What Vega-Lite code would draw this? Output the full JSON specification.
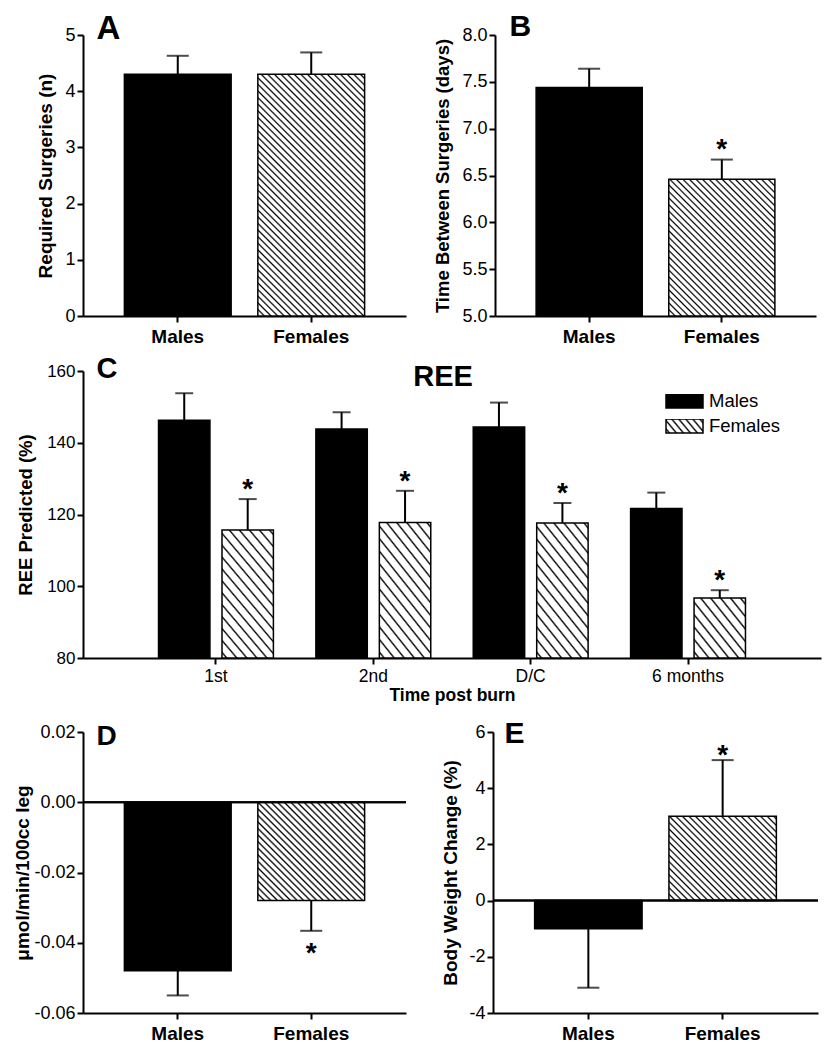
{
"$schema": "https://vega.github.io/schema/vega-lite/v6.json",
"background": "white",
"padding": {"left": 12, "top": 11, "right": 8, "bottom": 8},
"config": {
  "view": {"stroke": null},
  "font": "Liberation Sans",
  "axis": {"grid": false, "domainColor": "black", "domainWidth": 2, "tickColor": "black", "tickWidth": 2, "tickSize": 6, "labelColor": "black", "labelFont": "Liberation Sans", "labelFontSize": 18, "labelPadding": 2, "titleColor": "black", "titleFont": "Liberation Sans", "titleFontWeight": "bold", "titleFontSize": 19, "titleBaseline": "alphabetic"}
},
"datasets": {
  "A": [{"sex": "Males", "bar": 4.3, "whisker": 4.63, "sig": ""}, {"sex": "Females", "bar": 4.3, "whisker": 4.69, "sig": ""}],
  "B": [{"sex": "Males", "bar": 7.44, "whisker": 7.64, "sig": ""}, {"sex": "Females", "bar": 6.46, "whisker": 6.67, "sig": "*"}],
  "C": [
    {"time": "1st", "sex": "Males", "bar": 146.3, "whisker": 153.8, "sig": ""},
    {"time": "1st", "sex": "Females", "bar": 115.7, "whisker": 124.3, "sig": "*"},
    {"time": "2nd", "sex": "Males", "bar": 143.8, "whisker": 148.5, "sig": ""},
    {"time": "2nd", "sex": "Females", "bar": 117.8, "whisker": 126.6, "sig": "*"},
    {"time": "D/C", "sex": "Males", "bar": 144.4, "whisker": 151.2, "sig": ""},
    {"time": "D/C", "sex": "Females", "bar": 117.6, "whisker": 123.2, "sig": "*"},
    {"time": "6 months", "sex": "Males", "bar": 121.7, "whisker": 126.1, "sig": ""},
    {"time": "6 months", "sex": "Females", "bar": 96.7, "whisker": 98.9, "sig": "*"}
  ],
  "D": [{"sex": "Males", "bar": -0.048, "whisker": -0.055, "sig": ""}, {"sex": "Females", "bar": -0.028, "whisker": -0.0366, "sig": "*"}],
  "E": [{"sex": "Males", "bar": -1.0, "whisker": -3.1, "sig": ""}, {"sex": "Females", "bar": 3.0, "whisker": 5.0, "sig": "*"}]
},
"spacing": 8,
"vconcat": [
 {"hconcat": [
  {
   "width": 323, "height": 281,
   "data": {"name": "A"},
   "resolve": {"axis": {"x": "independent"}},
   "layer": [
    {"transform": [{"filter": "datum.sex === 'Males'"}],
     "mark": {"type": "bar", "color": "black", "stroke": "black", "strokeWidth": 1.5},
     "encoding": {
       "x": {"field": "sex", "type": "nominal", "scale": {"domain": ["Males", "Females"], "paddingInner": 0.2, "paddingOuter": 0.31}, "axis": {"title": null, "labelFontWeight": "bold", "labelFontSize": 19, "labelPadding": 5, "labelAngle": 0}},
       "y": {"field": "bar", "type": "quantitative", "scale": {"domain": [0, 5], "nice": false}, "axis": {"title": "Required Surgeries (n)", "values": [0, 1, 2, 3, 4, 5], "format": "d", "titleX": -31.5}}
     }},
    {"transform": [{"filter": "datum.sex === 'Females'"}],
     "mark": {"type": "bar", "stroke": "black", "strokeWidth": 1.5, "fill": {"gradient": "linear", "x1": 0, "y1": 1, "x2": 0.533, "y2": -0.2064, "stops": [
{"offset":0.014,"color":"#fff"},{"offset":0.019,"color":"#000"},{"offset":0.024,"color":"#fff"},
{"offset":0.033,"color":"#fff"},{"offset":0.038,"color":"#000"},{"offset":0.043,"color":"#fff"},
{"offset":0.052,"color":"#fff"},{"offset":0.057,"color":"#000"},{"offset":0.062,"color":"#fff"},
{"offset":0.071,"color":"#fff"},{"offset":0.076,"color":"#000"},{"offset":0.081,"color":"#fff"},
{"offset":0.09,"color":"#fff"},{"offset":0.095,"color":"#000"},{"offset":0.1,"color":"#fff"},
{"offset":0.109,"color":"#fff"},{"offset":0.114,"color":"#000"},{"offset":0.119,"color":"#fff"},
{"offset":0.128,"color":"#fff"},{"offset":0.133,"color":"#000"},{"offset":0.138,"color":"#fff"},
{"offset":0.147,"color":"#fff"},{"offset":0.152,"color":"#000"},{"offset":0.157,"color":"#fff"},
{"offset":0.166,"color":"#fff"},{"offset":0.171,"color":"#000"},{"offset":0.176,"color":"#fff"},
{"offset":0.185,"color":"#fff"},{"offset":0.19,"color":"#000"},{"offset":0.195,"color":"#fff"},
{"offset":0.204,"color":"#fff"},{"offset":0.209,"color":"#000"},{"offset":0.214,"color":"#fff"},
{"offset":0.223,"color":"#fff"},{"offset":0.228,"color":"#000"},{"offset":0.233,"color":"#fff"},
{"offset":0.242,"color":"#fff"},{"offset":0.247,"color":"#000"},{"offset":0.252,"color":"#fff"},
{"offset":0.261,"color":"#fff"},{"offset":0.266,"color":"#000"},{"offset":0.271,"color":"#fff"},
{"offset":0.28,"color":"#fff"},{"offset":0.285,"color":"#000"},{"offset":0.29,"color":"#fff"},
{"offset":0.299,"color":"#fff"},{"offset":0.304,"color":"#000"},{"offset":0.309,"color":"#fff"},
{"offset":0.318,"color":"#fff"},{"offset":0.323,"color":"#000"},{"offset":0.328,"color":"#fff"},
{"offset":0.337,"color":"#fff"},{"offset":0.342,"color":"#000"},{"offset":0.347,"color":"#fff"},
{"offset":0.356,"color":"#fff"},{"offset":0.361,"color":"#000"},{"offset":0.366,"color":"#fff"},
{"offset":0.375,"color":"#fff"},{"offset":0.38,"color":"#000"},{"offset":0.385,"color":"#fff"},
{"offset":0.394,"color":"#fff"},{"offset":0.399,"color":"#000"},{"offset":0.404,"color":"#fff"},
{"offset":0.413,"color":"#fff"},{"offset":0.418,"color":"#000"},{"offset":0.423,"color":"#fff"},
{"offset":0.432,"color":"#fff"},{"offset":0.437,"color":"#000"},{"offset":0.442,"color":"#fff"},
{"offset":0.451,"color":"#fff"},{"offset":0.456,"color":"#000"},{"offset":0.461,"color":"#fff"},
{"offset":0.47,"color":"#fff"},{"offset":0.475,"color":"#000"},{"offset":0.48,"color":"#fff"},
{"offset":0.489,"color":"#fff"},{"offset":0.494,"color":"#000"},{"offset":0.499,"color":"#fff"},
{"offset":0.508,"color":"#fff"},{"offset":0.513,"color":"#000"},{"offset":0.518,"color":"#fff"},
{"offset":0.527,"color":"#fff"},{"offset":0.532,"color":"#000"},{"offset":0.537,"color":"#fff"},
{"offset":0.546,"color":"#fff"},{"offset":0.551,"color":"#000"},{"offset":0.556,"color":"#fff"},
{"offset":0.565,"color":"#fff"},{"offset":0.57,"color":"#000"},{"offset":0.575,"color":"#fff"},
{"offset":0.584,"color":"#fff"},{"offset":0.589,"color":"#000"},{"offset":0.594,"color":"#fff"},
{"offset":0.603,"color":"#fff"},{"offset":0.608,"color":"#000"},{"offset":0.613,"color":"#fff"},
{"offset":0.622,"color":"#fff"},{"offset":0.627,"color":"#000"},{"offset":0.632,"color":"#fff"},
{"offset":0.641,"color":"#fff"},{"offset":0.646,"color":"#000"},{"offset":0.651,"color":"#fff"},
{"offset":0.66,"color":"#fff"},{"offset":0.665,"color":"#000"},{"offset":0.67,"color":"#fff"},
{"offset":0.679,"color":"#fff"},{"offset":0.684,"color":"#000"},{"offset":0.689,"color":"#fff"},
{"offset":0.698,"color":"#fff"},{"offset":0.703,"color":"#000"},{"offset":0.708,"color":"#fff"},
{"offset":0.717,"color":"#fff"},{"offset":0.722,"color":"#000"},{"offset":0.727,"color":"#fff"},
{"offset":0.736,"color":"#fff"},{"offset":0.741,"color":"#000"},{"offset":0.746,"color":"#fff"},
{"offset":0.755,"color":"#fff"},{"offset":0.76,"color":"#000"},{"offset":0.765,"color":"#fff"},
{"offset":0.774,"color":"#fff"},{"offset":0.779,"color":"#000"},{"offset":0.784,"color":"#fff"},
{"offset":0.793,"color":"#fff"},{"offset":0.798,"color":"#000"},{"offset":0.803,"color":"#fff"},
{"offset":0.812,"color":"#fff"},{"offset":0.817,"color":"#000"},{"offset":0.822,"color":"#fff"},
{"offset":0.831,"color":"#fff"},{"offset":0.836,"color":"#000"},{"offset":0.841,"color":"#fff"},
{"offset":0.85,"color":"#fff"},{"offset":0.855,"color":"#000"},{"offset":0.86,"color":"#fff"},
{"offset":0.869,"color":"#fff"},{"offset":0.874,"color":"#000"},{"offset":0.879,"color":"#fff"},
{"offset":0.888,"color":"#fff"},{"offset":0.893,"color":"#000"},{"offset":0.898,"color":"#fff"},
{"offset":0.907,"color":"#fff"},{"offset":0.912,"color":"#000"},{"offset":0.917,"color":"#fff"},
{"offset":0.926,"color":"#fff"},{"offset":0.931,"color":"#000"},{"offset":0.936,"color":"#fff"},
{"offset":0.945,"color":"#fff"},{"offset":0.95,"color":"#000"},{"offset":0.955,"color":"#fff"},
{"offset":0.964,"color":"#fff"},{"offset":0.969,"color":"#000"},{"offset":0.974,"color":"#fff"},
{"offset":0.983,"color":"#fff"},{"offset":0.988,"color":"#000"},{"offset":0.993,"color":"#fff"}
     ]}},
     "encoding": {
       "x": {"field": "sex", "type": "nominal", "scale": {"domain": ["Males", "Females"], "paddingInner": 0.2, "paddingOuter": 0.31}, "axis": null},
       "y": {"field": "bar", "type": "quantitative", "scale": {"domain": [0, 5], "nice": false}}
     }},
    {"mark": {"type": "rule", "color": "black", "strokeWidth": 2},
     "encoding": {
       "x": {"field": "sex", "type": "nominal", "scale": {"domain": ["Males", "Females"], "paddingInner": 0.2, "paddingOuter": 0.31}, "axis": {"orient": "top", "title": "A", "labels": false, "ticks": false, "domain": false, "titleX": 13, "titleY": 3, "titleAlign": "left", "titleAngle": 0, "titleFontSize": 33}},
       "y": {"field": "bar", "type": "quantitative", "scale": {"domain": [0, 5], "nice": false}},
       "y2": {"field": "whisker"}
     }},
    {"mark": {"type": "tick", "color": "black", "thickness": 2, "size": 22},
     "encoding": {
       "x": {"field": "sex", "type": "nominal", "scale": {"domain": ["Males", "Females"], "paddingInner": 0.2, "paddingOuter": 0.31}, "axis": null},
       "y": {"field": "whisker", "type": "quantitative", "scale": {"domain": [0, 5], "nice": false}}
     }}
   ]
  },
  {
   "width": 321, "height": 281,
   "data": {"name": "B"},
   "resolve": {"axis": {"x": "independent"}},
   "layer": [
    {"transform": [{"filter": "datum.sex === 'Males'"}],
     "mark": {"type": "bar", "color": "black", "stroke": "black", "strokeWidth": 1.5},
     "encoding": {
       "x": {"field": "sex", "type": "nominal", "scale": {"domain": ["Males", "Females"], "paddingInner": 0.2, "paddingOuter": 0.31}, "axis": {"title": null, "labelFontWeight": "bold", "labelFontSize": 19, "labelPadding": 5, "labelAngle": 0}},
       "y": {"field": "bar", "type": "quantitative", "scale": {"domain": [5, 8], "nice": false}, "axis": {"title": "Time Between Surgeries (days)", "values": [5, 5.5, 6, 6.5, 7, 7.5, 8], "format": ".1f", "titleFontSize": 18.5, "titleX": -47}},
       "y2": {"datum": 5}
     }},
    {"transform": [{"filter": "datum.sex === 'Females'"}],
     "mark": {"type": "bar", "stroke": "black", "strokeWidth": 1.5, "fill": {"gradient": "linear", "x1": 0, "y1": 1, "x2": 0.8602, "y2": -0.1085, "stops": [
{"offset":0.02,"color":"#fff"},{"offset":0.027,"color":"#000"},{"offset":0.034,"color":"#fff"},
{"offset":0.047,"color":"#fff"},{"offset":0.054,"color":"#000"},{"offset":0.061,"color":"#fff"},
{"offset":0.074,"color":"#fff"},{"offset":0.081,"color":"#000"},{"offset":0.088,"color":"#fff"},
{"offset":0.101,"color":"#fff"},{"offset":0.108,"color":"#000"},{"offset":0.115,"color":"#fff"},
{"offset":0.128,"color":"#fff"},{"offset":0.135,"color":"#000"},{"offset":0.142,"color":"#fff"},
{"offset":0.155,"color":"#fff"},{"offset":0.162,"color":"#000"},{"offset":0.169,"color":"#fff"},
{"offset":0.182,"color":"#fff"},{"offset":0.189,"color":"#000"},{"offset":0.196,"color":"#fff"},
{"offset":0.209,"color":"#fff"},{"offset":0.216,"color":"#000"},{"offset":0.223,"color":"#fff"},
{"offset":0.236,"color":"#fff"},{"offset":0.243,"color":"#000"},{"offset":0.25,"color":"#fff"},
{"offset":0.263,"color":"#fff"},{"offset":0.27,"color":"#000"},{"offset":0.277,"color":"#fff"},
{"offset":0.29,"color":"#fff"},{"offset":0.297,"color":"#000"},{"offset":0.304,"color":"#fff"},
{"offset":0.317,"color":"#fff"},{"offset":0.324,"color":"#000"},{"offset":0.331,"color":"#fff"},
{"offset":0.344,"color":"#fff"},{"offset":0.351,"color":"#000"},{"offset":0.358,"color":"#fff"},
{"offset":0.371,"color":"#fff"},{"offset":0.378,"color":"#000"},{"offset":0.385,"color":"#fff"},
{"offset":0.398,"color":"#fff"},{"offset":0.405,"color":"#000"},{"offset":0.412,"color":"#fff"},
{"offset":0.425,"color":"#fff"},{"offset":0.432,"color":"#000"},{"offset":0.439,"color":"#fff"},
{"offset":0.452,"color":"#fff"},{"offset":0.459,"color":"#000"},{"offset":0.466,"color":"#fff"},
{"offset":0.479,"color":"#fff"},{"offset":0.486,"color":"#000"},{"offset":0.493,"color":"#fff"},
{"offset":0.506,"color":"#fff"},{"offset":0.513,"color":"#000"},{"offset":0.52,"color":"#fff"},
{"offset":0.533,"color":"#fff"},{"offset":0.54,"color":"#000"},{"offset":0.547,"color":"#fff"},
{"offset":0.56,"color":"#fff"},{"offset":0.567,"color":"#000"},{"offset":0.574,"color":"#fff"},
{"offset":0.587,"color":"#fff"},{"offset":0.594,"color":"#000"},{"offset":0.601,"color":"#fff"},
{"offset":0.614,"color":"#fff"},{"offset":0.621,"color":"#000"},{"offset":0.628,"color":"#fff"},
{"offset":0.641,"color":"#fff"},{"offset":0.648,"color":"#000"},{"offset":0.655,"color":"#fff"},
{"offset":0.668,"color":"#fff"},{"offset":0.675,"color":"#000"},{"offset":0.682,"color":"#fff"},
{"offset":0.695,"color":"#fff"},{"offset":0.702,"color":"#000"},{"offset":0.709,"color":"#fff"},
{"offset":0.722,"color":"#fff"},{"offset":0.729,"color":"#000"},{"offset":0.736,"color":"#fff"},
{"offset":0.749,"color":"#fff"},{"offset":0.756,"color":"#000"},{"offset":0.763,"color":"#fff"},
{"offset":0.776,"color":"#fff"},{"offset":0.783,"color":"#000"},{"offset":0.79,"color":"#fff"},
{"offset":0.803,"color":"#fff"},{"offset":0.81,"color":"#000"},{"offset":0.817,"color":"#fff"},
{"offset":0.83,"color":"#fff"},{"offset":0.837,"color":"#000"},{"offset":0.844,"color":"#fff"},
{"offset":0.857,"color":"#fff"},{"offset":0.864,"color":"#000"},{"offset":0.871,"color":"#fff"},
{"offset":0.884,"color":"#fff"},{"offset":0.891,"color":"#000"},{"offset":0.898,"color":"#fff"},
{"offset":0.911,"color":"#fff"},{"offset":0.918,"color":"#000"},{"offset":0.925,"color":"#fff"},
{"offset":0.938,"color":"#fff"},{"offset":0.945,"color":"#000"},{"offset":0.952,"color":"#fff"},
{"offset":0.965,"color":"#fff"},{"offset":0.972,"color":"#000"},{"offset":0.979,"color":"#fff"}
     ]}},
     "encoding": {
       "x": {"field": "sex", "type": "nominal", "scale": {"domain": ["Males", "Females"], "paddingInner": 0.2, "paddingOuter": 0.31}, "axis": null},
       "y": {"field": "bar", "type": "quantitative", "scale": {"domain": [5, 8], "nice": false}},
       "y2": {"datum": 5}
     }},
    {"mark": {"type": "rule", "color": "black", "strokeWidth": 2},
     "encoding": {
       "x": {"field": "sex", "type": "nominal", "scale": {"domain": ["Males", "Females"], "paddingInner": 0.2, "paddingOuter": 0.31}, "axis": {"orient": "top", "title": "B", "labels": false, "ticks": false, "domain": false, "titleX": 14, "titleY": 0, "titleAlign": "left", "titleAngle": 0, "titleFontSize": 30}},
       "y": {"field": "bar", "type": "quantitative", "scale": {"domain": [5, 8], "nice": false}},
       "y2": {"field": "whisker"}
     }},
    {"mark": {"type": "tick", "color": "black", "thickness": 2, "size": 22},
     "encoding": {
       "x": {"field": "sex", "type": "nominal", "scale": {"domain": ["Males", "Females"], "paddingInner": 0.2, "paddingOuter": 0.31}, "axis": null},
       "y": {"field": "whisker", "type": "quantitative", "scale": {"domain": [5, 8], "nice": false}}
     }},
    {"mark": {"type": "text", "font": "Liberation Sans", "fontSize": 28, "fontWeight": "bold", "baseline": "alphabetic", "dy": -2, "color": "black"},
     "encoding": {
       "x": {"field": "sex", "type": "nominal", "scale": {"domain": ["Males", "Females"], "paddingInner": 0.2, "paddingOuter": 0.31}, "axis": null},
       "y": {"field": "whisker", "type": "quantitative", "scale": {"domain": [5, 8], "nice": false}},
       "text": {"field": "sig"}
     }}
   ]
  }
 ], "spacing": 89, "bounds": "flush"},
 {
  "width": 738, "height": 287,
  "data": {"name": "C"},
  "resolve": {"axis": {"x": "independent", "y": "independent"}},
  "layer": [
   {"transform": [{"filter": "datum.sex === 'Males'"}],
    "mark": {"type": "bar", "stroke": "black", "strokeWidth": 1.5},
    "encoding": {
      "x": {"field": "time", "type": "nominal", "scale": {"domain": ["1st", "2nd", "D/C", "6 months"], "paddingInner": 0.27, "paddingOuter": 0.48}, "axis": {"title": "Time post burn", "labelFontSize": 17.5, "labelPadding": 3, "labelAngle": 0, "titleFontSize": 17.5, "titleY": 42.5}},
      "xOffset": {"field": "sex", "type": "nominal", "scale": {"domain": ["Males", "Females"], "paddingInner": 0.19, "paddingOuter": 0}},
      "y": {"field": "bar", "type": "quantitative", "scale": {"domain": [80, 160], "nice": false}, "axis": {"title": "REE Predicted (%)", "values": [80, 100, 120, 140, 160], "labelFontSize": 17, "titleFontSize": 18.5, "titleX": -52}},
      "y2": {"datum": 80},
      "fill": {"field": "sex", "type": "nominal", "scale": {"domain": ["Males"], "range": ["black"]},
        "legend": {"orient": "none", "legendX": 582, "legendY": 359, "title": null, "symbolType": "M-1,-0.378H1V0.378H-1Z", "symbolSize": 1369, "clipHeight": 14, "labelOffset": 5, "labelFontSize": 18.5, "labelFont": "Liberation Sans", "labelColor": "black", "padding": 0, "symbolStrokeWidth": 1.5, "symbolStrokeColor": "black"}}
    }},
   {"transform": [{"filter": "datum.sex === 'none'"}],
    "mark": {"type": "bar", "stroke": "black", "strokeWidth": 1.5, "fill": {"gradient": "linear", "x1": 0, "y1": 1, "x2": 1.1965, "y2": 0.6226, "stops": [
{"offset":0.033,"color":"#fff"},{"offset":0.07,"color":"#000"},{"offset":0.107,"color":"#fff"},
{"offset":0.177,"color":"#fff"},{"offset":0.214,"color":"#000"},{"offset":0.251,"color":"#fff"},
{"offset":0.321,"color":"#fff"},{"offset":0.358,"color":"#000"},{"offset":0.395,"color":"#fff"},
{"offset":0.465,"color":"#fff"},{"offset":0.502,"color":"#000"},{"offset":0.539,"color":"#fff"},
{"offset":0.609,"color":"#fff"},{"offset":0.646,"color":"#000"},{"offset":0.683,"color":"#fff"},
{"offset":0.753,"color":"#fff"},{"offset":0.79,"color":"#000"},{"offset":0.827,"color":"#fff"},
{"offset":0.897,"color":"#fff"},{"offset":0.934,"color":"#000"},{"offset":0.971,"color":"#fff"}
    ]}},
    "encoding": {
      "x": {"field": "time", "type": "nominal", "scale": {"domain": ["1st", "2nd", "D/C", "6 months"], "paddingInner": 0.27, "paddingOuter": 0.48}, "axis": null},
      "xOffset": {"field": "sex", "type": "nominal", "scale": {"domain": ["Males", "Females"], "paddingInner": 0.19, "paddingOuter": 0}},
      "y": {"field": "bar", "type": "quantitative", "scale": {"domain": [80, 160], "nice": false}, "axis": null},
      "y2": {"datum": 80},
      "opacity": {"field": "sex", "type": "nominal", "scale": {"domain": ["Females"], "range": [1]},
        "legend": {"orient": "none", "legendX": 582, "legendY": 384, "title": null, "symbolType": "M-1,-0.378H1V0.378H-1Z", "symbolSize": 1369, "clipHeight": 14, "labelOffset": 5, "labelFontSize": 18.5, "labelFont": "Liberation Sans", "labelColor": "black", "padding": 0, "symbolStrokeWidth": 1.5}}
    }},
   {"transform": [{"filter": "datum.sex === 'Females' && datum.time !== '6 months'"}],
    "mark": {"type": "bar", "stroke": "black", "strokeWidth": 1.5, "fill": {"gradient": "linear", "x1": 0, "y1": 1, "x2": 0.5719, "y2": -0.2035, "stops": [
{"offset":0.019,"color":"#fff"},{"offset":0.03,"color":"#000"},{"offset":0.041,"color":"#fff"},
{"offset":0.082,"color":"#fff"},{"offset":0.093,"color":"#000"},{"offset":0.104,"color":"#fff"},
{"offset":0.145,"color":"#fff"},{"offset":0.156,"color":"#000"},{"offset":0.167,"color":"#fff"},
{"offset":0.208,"color":"#fff"},{"offset":0.219,"color":"#000"},{"offset":0.23,"color":"#fff"},
{"offset":0.271,"color":"#fff"},{"offset":0.282,"color":"#000"},{"offset":0.293,"color":"#fff"},
{"offset":0.334,"color":"#fff"},{"offset":0.345,"color":"#000"},{"offset":0.356,"color":"#fff"},
{"offset":0.397,"color":"#fff"},{"offset":0.408,"color":"#000"},{"offset":0.419,"color":"#fff"},
{"offset":0.46,"color":"#fff"},{"offset":0.471,"color":"#000"},{"offset":0.482,"color":"#fff"},
{"offset":0.523,"color":"#fff"},{"offset":0.534,"color":"#000"},{"offset":0.545,"color":"#fff"},
{"offset":0.586,"color":"#fff"},{"offset":0.597,"color":"#000"},{"offset":0.608,"color":"#fff"},
{"offset":0.649,"color":"#fff"},{"offset":0.66,"color":"#000"},{"offset":0.671,"color":"#fff"},
{"offset":0.712,"color":"#fff"},{"offset":0.723,"color":"#000"},{"offset":0.734,"color":"#fff"},
{"offset":0.775,"color":"#fff"},{"offset":0.786,"color":"#000"},{"offset":0.797,"color":"#fff"},
{"offset":0.838,"color":"#fff"},{"offset":0.849,"color":"#000"},{"offset":0.86,"color":"#fff"},
{"offset":0.901,"color":"#fff"},{"offset":0.912,"color":"#000"},{"offset":0.923,"color":"#fff"},
{"offset":0.964,"color":"#fff"},{"offset":0.975,"color":"#000"},{"offset":0.986,"color":"#fff"}
    ]}},
    "encoding": {
      "x": {"field": "time", "type": "nominal", "scale": {"domain": ["1st", "2nd", "D/C", "6 months"], "paddingInner": 0.27, "paddingOuter": 0.48}, "axis": null},
      "xOffset": {"field": "sex", "type": "nominal", "scale": {"domain": ["Males", "Females"], "paddingInner": 0.19, "paddingOuter": 0}},
      "y": {"field": "bar", "type": "quantitative", "scale": {"domain": [80, 160], "nice": false}, "axis": null},
      "y2": {"datum": 80}
    }},
   {"transform": [{"filter": "datum.sex === 'Females' && datum.time === '6 months'"}],
    "mark": {"type": "bar", "stroke": "black", "strokeWidth": 1.5, "fill": {"gradient": "linear", "x1": 0, "y1": 1, "x2": 1.0337, "y2": 0.0361, "stops": [
{"offset":0.032,"color":"#fff"},{"offset":0.05,"color":"#000"},{"offset":0.068,"color":"#fff"},
{"offset":0.132,"color":"#fff"},{"offset":0.15,"color":"#000"},{"offset":0.168,"color":"#fff"},
{"offset":0.232,"color":"#fff"},{"offset":0.25,"color":"#000"},{"offset":0.268,"color":"#fff"},
{"offset":0.332,"color":"#fff"},{"offset":0.35,"color":"#000"},{"offset":0.368,"color":"#fff"},
{"offset":0.432,"color":"#fff"},{"offset":0.45,"color":"#000"},{"offset":0.468,"color":"#fff"},
{"offset":0.532,"color":"#fff"},{"offset":0.55,"color":"#000"},{"offset":0.568,"color":"#fff"},
{"offset":0.632,"color":"#fff"},{"offset":0.65,"color":"#000"},{"offset":0.668,"color":"#fff"},
{"offset":0.732,"color":"#fff"},{"offset":0.75,"color":"#000"},{"offset":0.768,"color":"#fff"},
{"offset":0.832,"color":"#fff"},{"offset":0.85,"color":"#000"},{"offset":0.868,"color":"#fff"},
{"offset":0.932,"color":"#fff"},{"offset":0.95,"color":"#000"},{"offset":0.968,"color":"#fff"}
    ]}},
    "encoding": {
      "x": {"field": "time", "type": "nominal", "scale": {"domain": ["1st", "2nd", "D/C", "6 months"], "paddingInner": 0.27, "paddingOuter": 0.48}, "axis": null},
      "xOffset": {"field": "sex", "type": "nominal", "scale": {"domain": ["Males", "Females"], "paddingInner": 0.19, "paddingOuter": 0}},
      "y": {"field": "bar", "type": "quantitative", "scale": {"domain": [80, 160], "nice": false}, "axis": null},
      "y2": {"datum": 80}
    }},
   {"mark": {"type": "rule", "color": "black", "strokeWidth": 2},
    "encoding": {
      "x": {"field": "time", "type": "nominal", "scale": {"domain": ["1st", "2nd", "D/C", "6 months"], "paddingInner": 0.27, "paddingOuter": 0.48}, "axis": {"orient": "top", "title": "C", "labels": false, "ticks": false, "domain": false, "titleX": 13, "titleY": 6, "titleAlign": "left", "titleAngle": 0, "titleFontSize": 29}},
      "xOffset": {"field": "sex", "type": "nominal", "scale": {"domain": ["Males", "Females"], "paddingInner": 0.19, "paddingOuter": 0}},
      "y": {"field": "bar", "type": "quantitative", "scale": {"domain": [80, 160], "nice": false}, "axis": {"orient": "right", "title": "REE", "labels": false, "ticks": false, "domain": false, "titleAngle": 0, "titleX": -378.5, "titleY": 14, "titleAlign": "center", "titleFontSize": 29}},
      "y2": {"field": "whisker"}
    }},
   {"mark": {"type": "tick", "color": "black", "thickness": 2, "size": 18},
    "encoding": {
      "x": {"field": "time", "type": "nominal", "scale": {"domain": ["1st", "2nd", "D/C", "6 months"], "paddingInner": 0.27, "paddingOuter": 0.48}, "axis": null},
      "xOffset": {"field": "sex", "type": "nominal", "scale": {"domain": ["Males", "Females"], "paddingInner": 0.19, "paddingOuter": 0}},
      "y": {"field": "whisker", "type": "quantitative", "scale": {"domain": [80, 160], "nice": false}, "axis": null}
    }},
   {"mark": {"type": "text", "font": "Liberation Sans", "fontSize": 28, "fontWeight": "bold", "baseline": "alphabetic", "dy": -1, "color": "black"},
    "encoding": {
      "x": {"field": "time", "type": "nominal", "scale": {"domain": ["1st", "2nd", "D/C", "6 months"], "paddingInner": 0.27, "paddingOuter": 0.48}, "axis": null},
      "xOffset": {"field": "sex", "type": "nominal", "scale": {"domain": ["Males", "Females"], "paddingInner": 0.19, "paddingOuter": 0}},
      "y": {"field": "whisker", "type": "quantitative", "scale": {"domain": [80, 160], "nice": false}, "axis": null},
      "text": {"field": "sig"}
    }}
  ]
 },
 {"hconcat": [
  {
   "width": 323, "height": 281,
   "data": {"name": "D"},
   "resolve": {"axis": {"x": "independent"}},
   "layer": [
    {"transform": [{"filter": "datum.sex === 'Males'"}],
     "mark": {"type": "bar", "color": "black", "stroke": "black", "strokeWidth": 1.5},
     "encoding": {
       "x": {"field": "sex", "type": "nominal", "scale": {"domain": ["Males", "Females"], "paddingInner": 0.2, "paddingOuter": 0.31}, "axis": {"title": null, "labelFontWeight": "bold", "labelFontSize": 19, "labelPadding": 5, "labelAngle": 0}},
       "y": {"field": "bar", "type": "quantitative", "scale": {"domain": [-0.06, 0.02], "nice": false}, "axis": {"title": "μmol/min/100cc leg", "values": [-0.06, -0.04, -0.02, 0, 0.02], "labelExpr": "replace(format(datum.value, '.2f'), '−', '-')", "titleX": -55}}
     }},
    {"transform": [{"filter": "datum.sex === 'Females'"}],
     "mark": {"type": "bar", "stroke": "black", "strokeWidth": 1.5, "fill": {"gradient": "linear", "x1": 0, "y1": 1, "x2": 1.0393, "y2": 0.0427, "stops": [
{"offset":0.023,"color":"#fff"},{"offset":0.032,"color":"#000"},{"offset":0.041,"color":"#fff"},
{"offset":0.055,"color":"#fff"},{"offset":0.064,"color":"#000"},{"offset":0.073,"color":"#fff"},
{"offset":0.087,"color":"#fff"},{"offset":0.096,"color":"#000"},{"offset":0.105,"color":"#fff"},
{"offset":0.119,"color":"#fff"},{"offset":0.128,"color":"#000"},{"offset":0.137,"color":"#fff"},
{"offset":0.151,"color":"#fff"},{"offset":0.16,"color":"#000"},{"offset":0.169,"color":"#fff"},
{"offset":0.183,"color":"#fff"},{"offset":0.192,"color":"#000"},{"offset":0.201,"color":"#fff"},
{"offset":0.215,"color":"#fff"},{"offset":0.224,"color":"#000"},{"offset":0.233,"color":"#fff"},
{"offset":0.247,"color":"#fff"},{"offset":0.256,"color":"#000"},{"offset":0.265,"color":"#fff"},
{"offset":0.279,"color":"#fff"},{"offset":0.288,"color":"#000"},{"offset":0.297,"color":"#fff"},
{"offset":0.311,"color":"#fff"},{"offset":0.32,"color":"#000"},{"offset":0.329,"color":"#fff"},
{"offset":0.343,"color":"#fff"},{"offset":0.352,"color":"#000"},{"offset":0.361,"color":"#fff"},
{"offset":0.375,"color":"#fff"},{"offset":0.384,"color":"#000"},{"offset":0.393,"color":"#fff"},
{"offset":0.407,"color":"#fff"},{"offset":0.416,"color":"#000"},{"offset":0.425,"color":"#fff"},
{"offset":0.439,"color":"#fff"},{"offset":0.448,"color":"#000"},{"offset":0.457,"color":"#fff"},
{"offset":0.471,"color":"#fff"},{"offset":0.48,"color":"#000"},{"offset":0.489,"color":"#fff"},
{"offset":0.503,"color":"#fff"},{"offset":0.512,"color":"#000"},{"offset":0.521,"color":"#fff"},
{"offset":0.535,"color":"#fff"},{"offset":0.544,"color":"#000"},{"offset":0.553,"color":"#fff"},
{"offset":0.567,"color":"#fff"},{"offset":0.576,"color":"#000"},{"offset":0.585,"color":"#fff"},
{"offset":0.599,"color":"#fff"},{"offset":0.608,"color":"#000"},{"offset":0.617,"color":"#fff"},
{"offset":0.631,"color":"#fff"},{"offset":0.64,"color":"#000"},{"offset":0.649,"color":"#fff"},
{"offset":0.663,"color":"#fff"},{"offset":0.672,"color":"#000"},{"offset":0.681,"color":"#fff"},
{"offset":0.695,"color":"#fff"},{"offset":0.704,"color":"#000"},{"offset":0.713,"color":"#fff"},
{"offset":0.727,"color":"#fff"},{"offset":0.736,"color":"#000"},{"offset":0.745,"color":"#fff"},
{"offset":0.759,"color":"#fff"},{"offset":0.768,"color":"#000"},{"offset":0.777,"color":"#fff"},
{"offset":0.791,"color":"#fff"},{"offset":0.8,"color":"#000"},{"offset":0.809,"color":"#fff"},
{"offset":0.823,"color":"#fff"},{"offset":0.832,"color":"#000"},{"offset":0.841,"color":"#fff"},
{"offset":0.855,"color":"#fff"},{"offset":0.864,"color":"#000"},{"offset":0.873,"color":"#fff"},
{"offset":0.887,"color":"#fff"},{"offset":0.896,"color":"#000"},{"offset":0.905,"color":"#fff"},
{"offset":0.919,"color":"#fff"},{"offset":0.928,"color":"#000"},{"offset":0.937,"color":"#fff"},
{"offset":0.951,"color":"#fff"},{"offset":0.96,"color":"#000"},{"offset":0.969,"color":"#fff"},
{"offset":0.983,"color":"#fff"},{"offset":0.992,"color":"#000"},{"offset":1,"color":"#fff"}
     ]}},
     "encoding": {
       "x": {"field": "sex", "type": "nominal", "scale": {"domain": ["Males", "Females"], "paddingInner": 0.2, "paddingOuter": 0.31}, "axis": null},
       "y": {"field": "bar", "type": "quantitative", "scale": {"domain": [-0.06, 0.02], "nice": false}}
     }},
    {"mark": {"type": "rule", "color": "black", "strokeWidth": 2},
     "encoding": {
       "y": {"datum": 0, "type": "quantitative", "scale": {"domain": [-0.06, 0.02], "nice": false}}
     }},
    {"mark": {"type": "rule", "color": "black", "strokeWidth": 2},
     "encoding": {
       "x": {"field": "sex", "type": "nominal", "scale": {"domain": ["Males", "Females"], "paddingInner": 0.2, "paddingOuter": 0.31}, "axis": {"orient": "top", "title": "D", "labels": false, "ticks": true, "tickColor": "transparent", "tickSize": 19, "domain": false, "titleX": 13, "titleY": 12, "titleAlign": "left", "titleAngle": 0, "titleFontSize": 28}},
       "y": {"field": "bar", "type": "quantitative", "scale": {"domain": [-0.06, 0.02], "nice": false}},
       "y2": {"field": "whisker"}
     }},
    {"mark": {"type": "tick", "color": "black", "thickness": 2, "size": 22},
     "encoding": {
       "x": {"field": "sex", "type": "nominal", "scale": {"domain": ["Males", "Females"], "paddingInner": 0.2, "paddingOuter": 0.31}, "axis": null},
       "y": {"field": "whisker", "type": "quantitative", "scale": {"domain": [-0.06, 0.02], "nice": false}}
     }},
    {"mark": {"type": "text", "font": "Liberation Sans", "fontSize": 28, "fontWeight": "bold", "baseline": "alphabetic", "dy": 31, "color": "black"},
     "encoding": {
       "x": {"field": "sex", "type": "nominal", "scale": {"domain": ["Males", "Females"], "paddingInner": 0.2, "paddingOuter": 0.31}, "axis": null},
       "y": {"field": "whisker", "type": "quantitative", "scale": {"domain": [-0.06, 0.02], "nice": false}},
       "text": {"field": "sig"}
     }}
   ]
  },
  {
   "width": 325, "height": 281,
   "data": {"name": "E"},
   "resolve": {"axis": {"x": "independent"}},
   "layer": [
    {"transform": [{"filter": "datum.sex === 'Males'"}],
     "mark": {"type": "bar", "color": "black", "stroke": "black", "strokeWidth": 1.5},
     "encoding": {
       "x": {"field": "sex", "type": "nominal", "scale": {"domain": ["Males", "Females"], "paddingInner": 0.2, "paddingOuter": 0.31}, "axis": {"title": null, "labelFontWeight": "bold", "labelFontSize": 19, "labelPadding": 5, "labelAngle": 0}},
       "y": {"field": "bar", "type": "quantitative", "scale": {"domain": [-4, 6], "nice": false}, "axis": {"title": "Body Weight Change (%)", "values": [-4, -2, 0, 2, 4, 6], "labelExpr": "replace(format(datum.value, 'd'), '−', '-')", "titleX": -36.5}}
     }},
    {"transform": [{"filter": "datum.sex === 'Females'"}],
     "mark": {"type": "bar", "stroke": "black", "strokeWidth": 1.5, "fill": {"gradient": "linear", "x1": 0, "y1": 1, "x2": 1.1046, "y2": 0.1333, "stops": [
{"offset":0.025,"color":"#fff"},{"offset":0.034,"color":"#000"},{"offset":0.043,"color":"#fff"},
{"offset":0.059,"color":"#fff"},{"offset":0.068,"color":"#000"},{"offset":0.077,"color":"#fff"},
{"offset":0.093,"color":"#fff"},{"offset":0.102,"color":"#000"},{"offset":0.111,"color":"#fff"},
{"offset":0.127,"color":"#fff"},{"offset":0.136,"color":"#000"},{"offset":0.145,"color":"#fff"},
{"offset":0.161,"color":"#fff"},{"offset":0.17,"color":"#000"},{"offset":0.179,"color":"#fff"},
{"offset":0.195,"color":"#fff"},{"offset":0.204,"color":"#000"},{"offset":0.213,"color":"#fff"},
{"offset":0.229,"color":"#fff"},{"offset":0.238,"color":"#000"},{"offset":0.247,"color":"#fff"},
{"offset":0.263,"color":"#fff"},{"offset":0.272,"color":"#000"},{"offset":0.281,"color":"#fff"},
{"offset":0.297,"color":"#fff"},{"offset":0.306,"color":"#000"},{"offset":0.315,"color":"#fff"},
{"offset":0.331,"color":"#fff"},{"offset":0.34,"color":"#000"},{"offset":0.349,"color":"#fff"},
{"offset":0.365,"color":"#fff"},{"offset":0.374,"color":"#000"},{"offset":0.383,"color":"#fff"},
{"offset":0.399,"color":"#fff"},{"offset":0.408,"color":"#000"},{"offset":0.417,"color":"#fff"},
{"offset":0.433,"color":"#fff"},{"offset":0.442,"color":"#000"},{"offset":0.451,"color":"#fff"},
{"offset":0.467,"color":"#fff"},{"offset":0.476,"color":"#000"},{"offset":0.485,"color":"#fff"},
{"offset":0.501,"color":"#fff"},{"offset":0.51,"color":"#000"},{"offset":0.519,"color":"#fff"},
{"offset":0.535,"color":"#fff"},{"offset":0.544,"color":"#000"},{"offset":0.553,"color":"#fff"},
{"offset":0.569,"color":"#fff"},{"offset":0.578,"color":"#000"},{"offset":0.587,"color":"#fff"},
{"offset":0.603,"color":"#fff"},{"offset":0.612,"color":"#000"},{"offset":0.621,"color":"#fff"},
{"offset":0.637,"color":"#fff"},{"offset":0.646,"color":"#000"},{"offset":0.655,"color":"#fff"},
{"offset":0.671,"color":"#fff"},{"offset":0.68,"color":"#000"},{"offset":0.689,"color":"#fff"},
{"offset":0.705,"color":"#fff"},{"offset":0.714,"color":"#000"},{"offset":0.723,"color":"#fff"},
{"offset":0.739,"color":"#fff"},{"offset":0.748,"color":"#000"},{"offset":0.757,"color":"#fff"},
{"offset":0.773,"color":"#fff"},{"offset":0.782,"color":"#000"},{"offset":0.791,"color":"#fff"},
{"offset":0.807,"color":"#fff"},{"offset":0.816,"color":"#000"},{"offset":0.825,"color":"#fff"},
{"offset":0.841,"color":"#fff"},{"offset":0.85,"color":"#000"},{"offset":0.859,"color":"#fff"},
{"offset":0.875,"color":"#fff"},{"offset":0.884,"color":"#000"},{"offset":0.893,"color":"#fff"},
{"offset":0.909,"color":"#fff"},{"offset":0.918,"color":"#000"},{"offset":0.927,"color":"#fff"},
{"offset":0.943,"color":"#fff"},{"offset":0.952,"color":"#000"},{"offset":0.961,"color":"#fff"},
{"offset":0.977,"color":"#fff"},{"offset":0.986,"color":"#000"},{"offset":0.995,"color":"#fff"}
     ]}},
     "encoding": {
       "x": {"field": "sex", "type": "nominal", "scale": {"domain": ["Males", "Females"], "paddingInner": 0.2, "paddingOuter": 0.31}, "axis": null},
       "y": {"field": "bar", "type": "quantitative", "scale": {"domain": [-4, 6], "nice": false}}
     }},
    {"mark": {"type": "rule", "color": "black", "strokeWidth": 2},
     "encoding": {
       "y": {"datum": 0, "type": "quantitative", "scale": {"domain": [-4, 6], "nice": false}}
     }},
    {"mark": {"type": "rule", "color": "black", "strokeWidth": 2},
     "encoding": {
       "x": {"field": "sex", "type": "nominal", "scale": {"domain": ["Males", "Females"], "paddingInner": 0.2, "paddingOuter": 0.31}, "axis": {"orient": "top", "title": "E", "labels": false, "ticks": false, "domain": false, "titleX": 11, "titleY": 10, "titleAlign": "left", "titleAngle": 0, "titleFontSize": 30}},
       "y": {"field": "bar", "type": "quantitative", "scale": {"domain": [-4, 6], "nice": false}},
       "y2": {"field": "whisker"}
     }},
    {"mark": {"type": "tick", "color": "black", "thickness": 2, "size": 22},
     "encoding": {
       "x": {"field": "sex", "type": "nominal", "scale": {"domain": ["Males", "Females"], "paddingInner": 0.2, "paddingOuter": 0.31}, "axis": null},
       "y": {"field": "whisker", "type": "quantitative", "scale": {"domain": [-4, 6], "nice": false}}
     }},
    {"mark": {"type": "text", "font": "Liberation Sans", "fontSize": 28, "fontWeight": "bold", "baseline": "alphabetic", "dy": 4, "color": "black"},
     "encoding": {
       "x": {"field": "sex", "type": "nominal", "scale": {"domain": ["Males", "Females"], "paddingInner": 0.2, "paddingOuter": 0.31}, "axis": null},
       "y": {"field": "whisker", "type": "quantitative", "scale": {"domain": [-4, 6], "nice": false}},
       "text": {"field": "sig"}
     }}
   ]
  }
 ], "spacing": 87, "bounds": "flush"}
]
}
